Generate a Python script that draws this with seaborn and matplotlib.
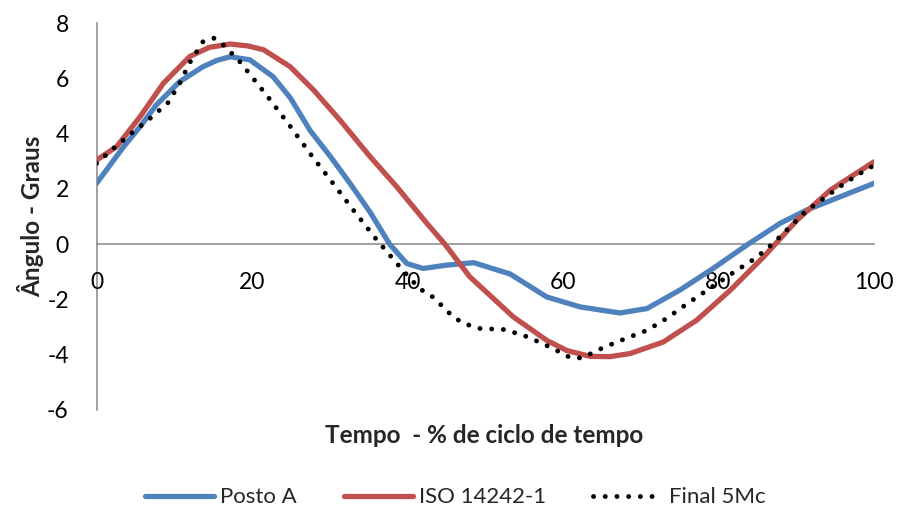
import pandas as pd
import matplotlib
matplotlib.use("Agg")
import matplotlib.pyplot as plt
import seaborn as sns

sns.set_theme(style="white")
plt.rcParams["font.family"] = ["Lato", "DejaVu Sans"]
plt.rcParams["axes.unicode_minus"] = False

# Values (tempo %, angle in degrees)
posto_x = [0, 3.5, 5.6, 7.7, 10.7, 13.7, 15.5, 17.2, 19.7, 22.7, 24.9, 27.5, 30.0, 32.6, 35.2, 37.7,
           39.9, 42.0, 45.0, 48.5, 53.2, 57.9, 62.2, 67.3, 70.8, 75.1, 79.3, 83.6, 87.9, 91.3, 95.6, 100]
posto_y = [2.2, 3.53, 4.25, 5.04, 5.88, 6.42, 6.65, 6.78, 6.67, 6.06, 5.3, 4.1, 3.2, 2.2, 1.15, 0.0,
           -0.7, -0.88, -0.76, -0.67, -1.08, -1.91, -2.27, -2.49, -2.33, -1.65, -0.88, -0.04, 0.75, 1.23, 1.71, 2.2]

iso_x = [0, 2.6, 5.6, 8.6, 12.0, 14.5, 17.2, 19.5, 21.5, 24.9, 27.9, 31.3, 35.2, 38.6, 42.5, 44.8, 48.0, 53.6,
         57.9, 60.5, 63.5, 66.0, 68.6, 72.9, 77.2, 81.5, 85.8, 90.1, 94.4, 100]
iso_y = [3.04, 3.53, 4.61, 5.82, 6.79, 7.12, 7.24, 7.17, 7.03, 6.42, 5.58, 4.49, 3.16, 2.08, 0.75, 0.0, -1.18, -2.63,
         -3.48, -3.85, -4.06, -4.07, -3.96, -3.54, -2.75, -1.67, -0.46, 0.87, 1.96, 2.98]

final_x = [0, 2.2, 4.5, 6.9, 9.2, 10.7, 12.0, 13.7, 15.1, 16.3, 17.4, 18.5, 22.2, 25.0, 27.7, 30.5,
           33.2, 36.0, 39.0, 41.5, 43.3, 45.4, 47.0, 49.3, 52.5, 55.5, 58.3, 60.9, 62.4, 65.2, 68.0,
           70.8, 73.3, 75.9, 78.5, 80.8, 82.1, 84.7, 87.0, 89.2, 91.3, 93.8, 96.3, 98.8, 100]
final_y = [2.92, 3.47, 4.01, 4.55, 5.12, 5.82, 6.57, 7.33, 7.45, 7.21, 6.9, 6.58, 5.27, 4.23, 3.19, 2.17,
           1.17, 0.17, -0.82, -1.6, -1.92, -2.5, -2.85, -3.05, -3.09, -3.36, -3.72, -4.1, -4.12, -3.74, -3.42,
           -3.12, -2.69, -2.17, -1.67, -1.24, -0.99, -0.52, 0.02, 0.63, 1.21, 1.71, 2.22, 2.66, 2.85]

series_names = ["Posto A", "ISO 14242-1", "Final 5Mc"]

df = pd.concat([
    pd.DataFrame({"tempo": posto_x, "angulo": posto_y, "serie": series_names[0]}),
    pd.DataFrame({"tempo": iso_x, "angulo": iso_y, "serie": series_names[1]}),
    pd.DataFrame({"tempo": final_x, "angulo": final_y, "serie": series_names[2]}),
])

fig = plt.figure(figsize=(8.98, 5.15), dpi=100)
ax = fig.add_axes([0.1075, 0.2039, 0.8658, 0.7514])

palette = {"Posto A": "#4F81BD", "ISO 14242-1": "#C0504D", "Final 5Mc": "black"}
sns.lineplot(data=df, x="tempo", y="angulo", hue="serie", palette=palette,
             sort=False, estimator=None, linewidth=3.8, legend=False, ax=ax)

# dotted style for the third series
lines = ax.get_lines()
for ln in lines[:2]:
    ln.set_solid_capstyle("round")
    ln.set_solid_joinstyle("round")
lines[2].set_linewidth(3.5)
lines[2].set_linestyle((0, (0.01, 2.4)))
lines[2].set_dash_capstyle("round")

ax.set_xlim(0, 100)
ax.set_ylim(-6, 8)
ax.set_xticks(range(0, 101, 20))
ax.set_yticks(range(-6, 9, 2))

ax.spines["top"].set_visible(False)
ax.spines["right"].set_visible(False)
ax.spines["bottom"].set_position(("data", 0))
for s in ["left", "bottom"]:
    ax.spines[s].set_color("#868686")
    ax.spines[s].set_linewidth(1.1)
    ax.spines[s].set_zorder(0)

ax.tick_params(axis="both", length=0, labelsize=16.5, colors="black")
ax.tick_params(axis="x", pad=20)
ax.tick_params(axis="y", pad=20)

ax.set_xlabel("Tempo  - % de ciclo de tempo", fontsize=17.5, fontweight="bold")
ax.set_ylabel("Ângulo - Graus", fontsize=17.5, fontweight="bold")
ax.xaxis.label.set_va("center")
ax.yaxis.label.set_va("center")
ax.xaxis.set_label_coords(0.499, -0.065)
ax.yaxis.set_label_coords(-0.085, 0.5)

ax.legend(handles=lines[:3], labels=series_names, loc="center",
          bbox_to_anchor=(455 / 898, 0.034), bbox_transform=fig.transFigure,
          ncol=3, frameon=False, fontsize=16, handlelength=3.1, handletextpad=0.3,
          columnspacing=2.1)

fig.savefig("out.png", dpi=100)
